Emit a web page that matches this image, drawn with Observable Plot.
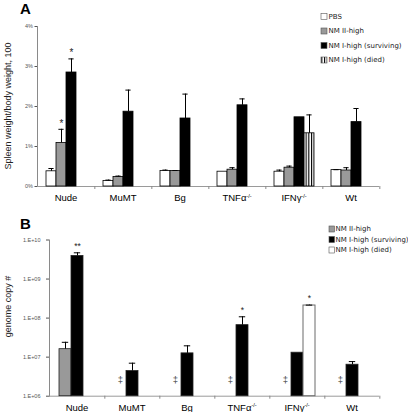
<!DOCTYPE html>
<html><head><meta charset="utf-8">
<script src="https://cdn.jsdelivr.net/npm/d3@7"></script>
<script src="https://cdn.jsdelivr.net/npm/@observablehq/plot@0.6"></script>
<style>
body{margin:0;background:#fff;}
#fig{position:relative;width:408px;height:412px;overflow:hidden;background:#fff;}
#fig svg{position:absolute;left:0;}
</style></head><body><div id="fig"></div>
<script>
// ---------- data ----------
const strains = ["Nude", "MuMT", "Bg", "TNFα-/-", "IFNγ-/-", "Wt"];
const seriesA = ["PBS", "NM II-high", "NM I-high (surviving)", "NM I-high (died)"];
const seriesB = ["NM II-high", "NM I-high (surviving)", "NM I-high (died)"];

// Panel A: spleen weight / body weight (%) : bar value and top of error bar
const pbsA      = [0.38, 0.14, 0.39, 0.37, 0.37, 0.41];
const pbsAErr   = [0.45, 0.16, 0.41, 0.37, 0.41, 0.42];
const nm2A      = [1.09, 0.24, 0.39, 0.42, 0.47, 0.40];
const nm2AErr   = [1.43, 0.26, 0.40, 0.47, 0.51, 0.47];
const nm1sA     = [2.85, 1.87, 1.70, 2.03, 1.73, 1.61];
const nm1sAErr  = [3.19, 2.41, 2.31, 2.19, null, 1.95];
const nm1dA     = [null, null, null, null, 1.33, null];
const nm1dAErr  = [null, null, null, null, 1.79, null];
const nm2AStar  = ["*", "", "", "", "", ""];
const nm1sAStar = ["*", "", "", "", "", ""];
const yTicksA = [0, 1, 2, 3, 4];
const yLabelsA = ["0%", "1%", "2%", "3%", "4%"];

// Panel B: genome copy number
const nm2B      = [1.6e7, null, null, null, null, null];
const nm2BErr   = [2.4e7, null, null, null, null, null];
const nm1sB     = [3.9e9, 4.4e6, 1.25e7, 6.6e7, 1.3e7, 6.4e6];
const nm1sBErr  = [4.7e9, 7.0e6, 1.95e7, 1.08e8, null, 7.7e6];
const nm1dB     = [null, null, null, null, 2.1e8, null];
const nm1dBErr  = [null, null, null, null, 2.15e8, null];
const nm1sBStar = ["**", "", "", "*", "", ""];
const nm1dBStar = ["", "", "", "", "*", ""];
const nm2BNote  = ["", "‡", "‡", "‡", "‡", "‡"];
const yTicksB = [1e6, 1e7, 1e8, 1e9, 1e10];
const yLabelsB = ["1.E+06", "1.E+07", "1.E+08", "1.E+09", "1.E+10"];

// ---------- styles ----------
const fillsA = ["#ffffff", "#999999", "#000000", "url(#stripes)"];
const fillsB = ["#999999", "#000000", "#ffffff"];
const FONT = "'Liberation Sans', Arial, sans-serif";
const LEGFONT = "'DejaVu Sans', Verdana, sans-serif";

function build(series, vals, errs, stars) {
  const out = [];
  series.forEach((s, si) => strains.forEach((g, gi) => {
    const v = vals[si][gi];
    if (v != null) out.push({strain: g, series: s, value: v,
      err: errs[si][gi], star: stars[si] ? stars[si][gi] : ""});
  }));
  return out;
}
const dataA = build(seriesA, [pbsA, nm2A, nm1sA, nm1dA], [pbsAErr, nm2AErr, nm1sAErr, nm1dAErr],
                    [null, nm2AStar, nm1sAStar, null]);
const dataB = build(seriesB, [nm2B, nm1sB, nm1dB], [nm2BErr, nm1sBErr, nm1dBErr],
                    [null, nm1sBStar, nm1dBStar]);
const notesB = strains.map((g, i) => ({strain: g, series: seriesB[0], note: nm2BNote[i]})).filter(d => d.note);

const fig = document.getElementById("fig");

// ---------- Panel A ----------
const WA = 408, HA = 205, mlA = 35, mrA = 27;
const fwA = (WA - mlA - mrA) / strains.length;
const plotA = Plot.plot({
  width: WA, height: HA, marginLeft: mlA, marginRight: mrA, marginTop: 26, marginBottom: HA - 186,
  style: {fontFamily: FONT, fontSize: "6px", color: "#000", background: "none", overflow: "visible"},
  fx: {domain: strains, padding: 0, label: null},
  x: {domain: seriesA, paddingInner: 0, paddingOuter: 0.7, axis: null},
  y: {domain: [0, 4], label: null},
  color: {domain: seriesA, range: fillsA},
  marks: [
    Plot.frame({anchor: "left", stroke: "#8a8a8a", facetAnchor: "left"}),
    Plot.axisY({ticks: yTicksA, tickFormat: d => yLabelsA[yTicksA.indexOf(d)], tickSize: 2.5, tickPadding: 2,
                fontSize: 5.5, color: "#555", label: null}),
    Plot.ruleY([0], {stroke: "#9a9a9a"}),
    Plot.axisFx({anchor: "bottom", tickSize: 3, tickFormat: () => "", dx: fwA / 2, color: "#8a8a8a", label: null}),
    Plot.axisFx({anchor: "bottom", tickSize: 0, tickPadding: 8, fontSize: 9.5, color: "#000", label: null}),
    Plot.barY(dataA, {fx: "strain", x: "series", y: "value", fill: "series", stroke: "#000", strokeWidth: 0.8}),
    Plot.ruleX(dataA.filter(d => d.err != null && d.err > d.value), {fx: "strain", x: "series", y1: "value", y2: "err", stroke: "#000"}),
    Plot.tickY(dataA.filter(d => d.err != null && d.err > d.value), {fx: "strain", x: "series", y: "err", stroke: "#000", insetLeft: 2.4, insetRight: 2.4}),
    Plot.text(dataA.filter(d => d.star), {fx: "strain", x: "series", y: d => d.err ?? d.value, text: "star", dy: -6, fontSize: 10, fill: "#222"})
  ]
});
plotA.style.top = "0px";
fig.appendChild(plotA);

// ---------- Panel B ----------
const TOPB = 205, WB = 408, HB = 207, mlB = 47, mrB = 27;
const fwB = (WB - mlB - mrB) / strains.length;
const plotB = Plot.plot({
  width: WB, height: HB, marginLeft: mlB, marginRight: mrB, marginTop: 239.5 - TOPB, marginBottom: TOPB + HB - 395.7,
  style: {fontFamily: FONT, fontSize: "6px", color: "#000", background: "none", overflow: "visible"},
  fx: {domain: strains, padding: 0, label: null},
  x: {domain: seriesB, paddingInner: 0, paddingOuter: 0.7, axis: null},
  y: {type: "log", domain: [yTicksB[0], yTicksB[yTicksB.length - 1]], label: null},
  color: {domain: seriesB, range: fillsB},
  marks: [
    Plot.frame({anchor: "left", stroke: "#8a8a8a", facetAnchor: "left"}),
    Plot.axisY({ticks: yTicksB, tickFormat: d => yLabelsB[yTicksB.indexOf(d)], tickSize: 3, tickPadding: 6,
                fontSize: 5.5, color: "#555", label: null}),
    Plot.ruleY([yTicksB[0]], {stroke: "#9a9a9a"}),
    Plot.axisFx({anchor: "bottom", tickSize: 3, tickFormat: () => "", dx: fwB / 2, color: "#8a8a8a", label: null}),
    Plot.axisFx({anchor: "bottom", tickSize: 0, tickPadding: 8, fontSize: 9.5, color: "#000", label: null}),
    Plot.rectY(dataB.filter(d => d.series !== seriesB[2]), {fx: "strain", x: "series", y1: yTicksB[0], y2: "value", fill: "series", stroke: "#222", strokeWidth: 0.8}),
    Plot.rectY(dataB.filter(d => d.series === seriesB[2]), {fx: "strain", x: "series", y1: yTicksB[0], y2: "value", fill: "series", stroke: "#6a6a6a", strokeWidth: 1}),
    Plot.ruleX(dataB.filter(d => d.err != null && d.err > d.value), {fx: "strain", x: "series", y1: "value", y2: "err", stroke: "#000"}),
    Plot.tickY(dataB.filter(d => d.err != null), {fx: "strain", x: "series", y: "err", stroke: "#000", insetLeft: 2.8, insetRight: 2.8}),
    Plot.text(dataB.filter(d => d.star), {fx: "strain", x: "series", y: d => d.err ?? d.value, text: "star", dy: -7, fontSize: 8.5, fill: "#222"}),
    Plot.text(notesB, {fx: "strain", x: "series", frameAnchor: "bottom", text: "note", dy: -13, fontSize: 9.5, fill: "#444"})
  ]
});
plotB.style.top = TOPB + "px";
fig.appendChild(plotB);

// superscript "-/-" in strain labels
[plotA, plotB].forEach(svg => {
  d3.select(svg).selectAll("text").each(function () {
    const t = this.textContent;
    const m = t.match(/^(.+?)(-\/-)$/);
    if (m) {
      this.textContent = m[1];
      d3.select(this).append("tspan").attr("font-size", "5.5px").attr("dy", "-3.5").text(m[2]);
    }
  });
});

// ---------- overlay: pattern, panel letters, axis titles, legends ----------
const ov = d3.select(fig).append("svg").attr("width", 408).attr("height", 412).style("top", "0px")
  .style("pointer-events", "none");
const pat = ov.append("defs").append("pattern").attr("id", "stripes")
  .attr("patternUnits", "userSpaceOnUse").attr("width", 2.7).attr("height", 4);
pat.append("rect").attr("width", 2.7).attr("height", 4).attr("fill", "#fff");
pat.append("rect").attr("width", 1.1).attr("height", 4).attr("fill", "#000");

ov.append("text").attr("x", 20).attr("y", 13.5).attr("font-family", FONT).attr("font-weight", "bold")
  .attr("font-size", 15).text("A");
ov.append("text").attr("x", 20).attr("y", 228.5).attr("font-family", FONT).attr("font-weight", "bold")
  .attr("font-size", 15).text("B");
ov.append("text").attr("transform", "translate(10.5,106) rotate(-90)").attr("text-anchor", "middle")
  .attr("font-family", FONT).attr("font-size", 9).attr("fill", "#222").text("Spleen weight/body weight, 100");
ov.append("text").attr("transform", "translate(10.5,306.5) rotate(-90)").attr("text-anchor", "middle")
  .attr("font-family", FONT).attr("font-size", 9).attr("fill", "#222").text("genome copy #");

function legend(series, fills, x0, y0, step, swW, textX) {
  const g = ov.append("g");
  series.forEach((s, i) => {
    const cy = y0 + i * step;
    g.append("rect").attr("x", x0).attr("y", cy - 3).attr("width", swW).attr("height", 6)
      .attr("fill", fills[i]).attr("stroke", "#555").attr("stroke-width", 0.6);
    g.append("text").attr("x", textX).attr("y", cy).attr("dy", "0.35em").attr("font-family", LEGFONT)
      .attr("font-size", 7).attr("fill", "#222").text(s);
  });
}
legend(seriesA, fillsA, 321, 16.5, 14.5, 6, 328.5);
legend(seriesB, fillsB, 329, 229, 10.5, 5.5, 335.5);
</script></body></html>
